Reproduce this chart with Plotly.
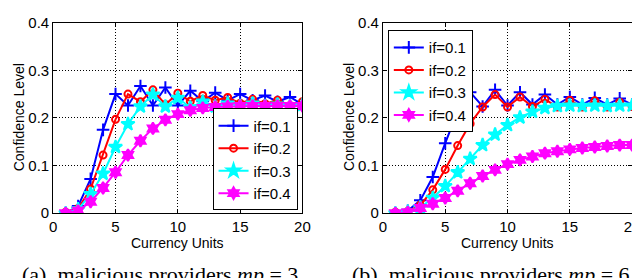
import plotly.graph_objects as go

x = list(range(1, 21))
labels = ["if=0.1", "if=0.2", "if=0.3", "if=0.4"]

a_if01 = [0.0, 0.015, 0.072, 0.175, 0.25, 0.226, 0.267, 0.226, 0.264, 0.226, 0.257, 0.235, 0.253, 0.237, 0.25, 0.237, 0.247, 0.234, 0.244, 0.228]
a_if02 = [0.002, 0.01, 0.051, 0.122, 0.197, 0.25, 0.234, 0.259, 0.228, 0.252, 0.235, 0.247, 0.237, 0.243, 0.231, 0.239, 0.23, 0.237, 0.226, 0.234]
a_if03 = [0.0, 0.008, 0.04, 0.083, 0.139, 0.187, 0.224, 0.249, 0.224, 0.242, 0.222, 0.234, 0.224, 0.23, 0.225, 0.23, 0.225, 0.228, 0.225, 0.227]
a_if04 = [0.0, 0.005, 0.024, 0.053, 0.086, 0.122, 0.152, 0.178, 0.196, 0.208, 0.216, 0.221, 0.223, 0.224, 0.225, 0.225, 0.225, 0.225, 0.225, 0.225]

b_if01 = [0.0, 0.005, 0.027, 0.076, 0.147, 0.214, 0.254, 0.224, 0.259, 0.226, 0.254, 0.228, 0.249, 0.228, 0.244, 0.228, 0.242, 0.228, 0.241, 0.228]
b_if02 = [0.002, 0.004, 0.017, 0.049, 0.092, 0.142, 0.188, 0.223, 0.249, 0.223, 0.244, 0.224, 0.239, 0.223, 0.237, 0.223, 0.236, 0.223, 0.233, 0.224]
b_if03 = [0.0, 0.003, 0.012, 0.032, 0.057, 0.086, 0.114, 0.143, 0.165, 0.185, 0.201, 0.213, 0.221, 0.225, 0.226, 0.225, 0.226, 0.225, 0.226, 0.226]
b_if04 = [0.0, 0.002, 0.011, 0.02, 0.032, 0.047, 0.063, 0.078, 0.091, 0.103, 0.112, 0.119, 0.126, 0.13, 0.134, 0.137, 0.139, 0.141, 0.143, 0.143]

colors = ["#0000ff", "#ff0000", "#00ffff", "#ff00ff"]
symbols = ["cross-thin-open", "circle-open", "star", "hexagram"]
sizes = [9, 7, 10, 9]

W, H = 640, 278
def px_x(p): return p / W
def px_y(p): return 1 - p / H

fig = go.Figure()

for panel, (series, xa, ya, leg) in enumerate([
        ([a_if01, a_if02, a_if03, a_if04], "x", "y", "legend"),
        ([b_if01, b_if02, b_if03, b_if04], "x2", "y2", "legend2")]):
    for i, ys in enumerate(series):
        fig.add_trace(go.Scatter(
            x=x, y=ys, mode="lines+markers", name=labels[i],
            xaxis=xa, yaxis=ya, legend=leg,
            line=dict(color=colors[i], width=2),
            marker=dict(symbol=symbols[i], size=sizes[i], color=colors[i],
                        line=dict(color=colors[i], width=2)),
        ))

axis_common = dict(showline=True, linecolor="black", linewidth=1, mirror="ticks",
                   ticks="inside", ticklen=4, tickcolor="black",
                   showgrid=True, gridcolor="black", griddash="1px,2px", gridwidth=1,
                   zeroline=False, ticklabeloverflow="allow",
                   tickfont=dict(family="Liberation Sans, Arial", size=15, color="black"))

sans = "Liberation Sans, Arial"
title_font = dict(family=sans, size=14, color="black")
leg_font = dict(family=sans, size=15, color="black")
cap_font = dict(family="Liberation Serif, serif", size=22, color="black")

def ann(text, xp, yp, font, xanchor="center", yanchor="middle", angle=0):
    return dict(text=text, x=px_x(xp), y=px_y(yp), xref="paper", yref="paper",
                xanchor=xanchor, yanchor=yanchor, showarrow=False, font=font, textangle=angle)

fig.update_layout(
    width=W, height=H, margin=dict(l=0, r=0, t=0, b=0),
    plot_bgcolor="white", paper_bgcolor="white", showlegend=True,
    xaxis=dict(domain=[px_x(42), px_x(296)], range=[0, 20], tickvals=[0, 5, 10, 15, 20],
               anchor="y", ticklabelstandoff=0, **axis_common),
    yaxis=dict(domain=[px_y(209), px_y(6)], range=[0, 0.4], tickvals=[0, 0.1, 0.2, 0.3, 0.4],
               ticktext=["0", "0.1", "0.2", "0.3", "0.4"], anchor="x", **axis_common),
    xaxis2=dict(domain=[px_x(378), px_x(632)], range=[0, 20], tickvals=[0, 5, 10, 15, 20],
                anchor="y2", ticklabelstandoff=0, **axis_common),
    yaxis2=dict(domain=[px_y(209), px_y(6)], range=[0, 0.4], tickvals=[0, 0.1, 0.2, 0.3, 0.4],
                ticktext=["0", "0.1", "0.2", "0.3", "0.4"], anchor="x2", **axis_common),
    legend=dict(x=px_x(291), y=px_y(206), xanchor="right", yanchor="bottom",
                bgcolor="white", bordercolor="black", borderwidth=1,
                font=leg_font, itemwidth=30, tracegroupgap=0),
    legend2=dict(x=px_x(383), y=px_y(14), xanchor="left", yanchor="top",
                 bgcolor="white", bordercolor="black", borderwidth=1,
                 font=leg_font, itemwidth=30, tracegroupgap=0),
    annotations=[
        ann("Currency Units", 169, 241, title_font),
        ann("Currency Units", 505, 241, title_font),
        ann("Confidence Level", 8, 107, title_font, angle=-90),
        ann("Confidence Level", 344, 107, title_font, angle=-90),
        ann("(a)  malicious providers <i>mp</i> = 3", 151, 259, cap_font, yanchor="top"),
        ann("(b)  malicious providers <i>mp</i> = 6", 488, 259, cap_font, yanchor="top"),
    ],
)

fig.write_html("out.html")
